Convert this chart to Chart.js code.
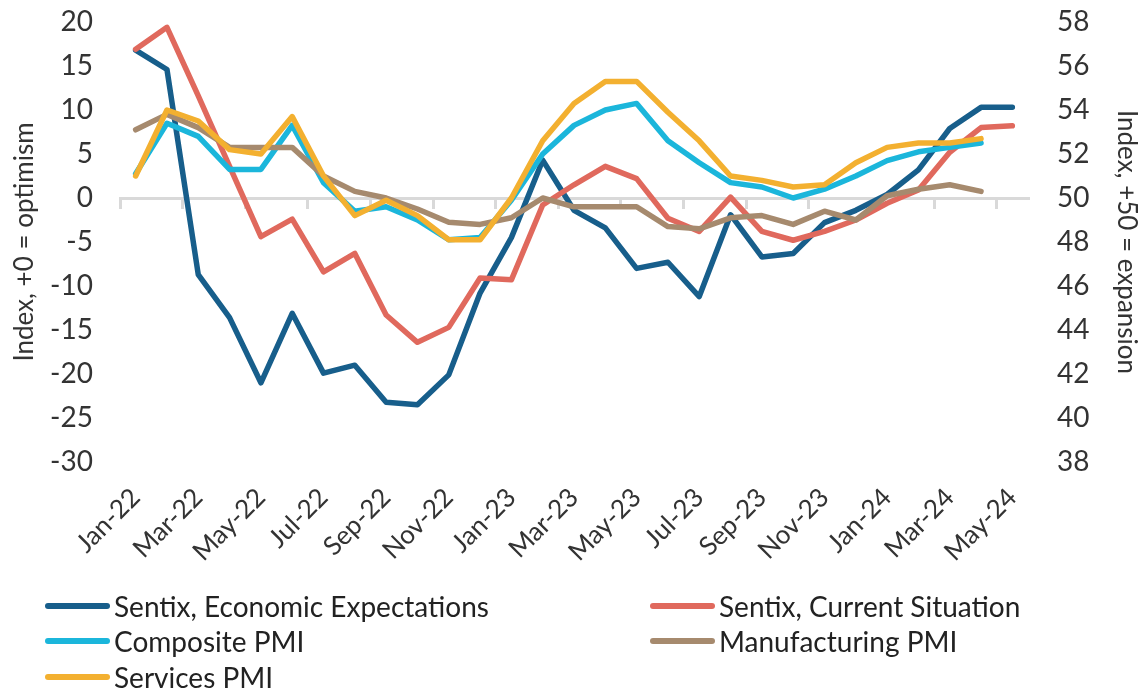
<!DOCTYPE html>
<html>
<head>
<meta charset="utf-8">
<script src="https://cdn.jsdelivr.net/npm/chart.js@4.4.1/dist/chart.umd.min.js"></script>
<style>
    body { margin: 0; background: #fff; font-family: Lato, "Open Sans", sans-serif; }
    #wrap { position: relative; width: 1138px; height: 692px; }
    #legend {
        position: absolute; left: 45px; top: 588px;
        display: grid; grid-template-columns: 605px 440px;
    }
    .item { display: flex; align-items: center; height: 35.5px; font-size: 28px; color: #222; white-space: nowrap; }
    .swatch { width: 65px; height: 6px; border-radius: 3px; margin-right: 4px; }
</style>
</head>
<body>
<div id="wrap">
    <canvas id="sentixChart" width="1138" height="692"></canvas>
    <div id="legend"></div>
</div>
<script>
// months on the x axis
const months = ['Jan-22', 'Feb-22', 'Mar-22', 'Apr-22', 'May-22', 'Jun-22', 'Jul-22', 'Aug-22', 'Sep-22', 'Oct-22', 'Nov-22', 'Dec-22',
    'Jan-23', 'Feb-23', 'Mar-23', 'Apr-23', 'May-23', 'Jun-23', 'Jul-23', 'Aug-23', 'Sep-23', 'Oct-23', 'Nov-23', 'Dec-23',
    'Jan-24', 'Feb-24', 'Mar-24', 'Apr-24', 'May-24'];

// left axis (index, 0 = neutral)
const sentixExpectations = [16.8, 14.6, -8.7, -13.6, -21.0, -13.1, -19.9, -19.0, -23.2, -23.5, -20.1, -10.8,
    -4.5, 4.3, -1.4, -3.4, -8.0, -7.3, -11.2, -1.9, -6.7, -6.3, -2.8, -1.4, 0.4, 3.2, 7.9, 10.3, 10.3];
const sentixCurrent = [16.9, 19.4, 11.6, 3.6, -4.4, -2.4, -8.4, -6.3, -13.3, -16.4, -14.7, -9.1,
    -9.3, -0.8, 1.5, 3.6, 2.2, -2.3, -3.8, 0.1, -3.8, -4.8, -3.8, -2.5, -0.6, 0.9, 5.2, 8.0, 8.2];

// right axis (PMI, 50 = neutral)
const compositePmi = [51.1, 53.4, 52.8, 51.3, 51.3, 53.3, 50.7, 49.4, 49.6, 49.0, 48.1, 48.2,
    49.9, 52.0, 53.3, 54.0, 54.3, 52.6, 51.6, 50.7, 50.5, 50.0, 50.4, 51.0, 51.7, 52.1, 52.3, 52.5, null];
const manufacturingPmi = [53.1, 53.8, 53.2, 52.3, 52.3, 52.3, 51.0, 50.3, 50.0, 49.5, 48.9, 48.8,
    49.1, 50.0, 49.6, 49.6, 49.6, 48.7, 48.6, 49.1, 49.2, 48.8, 49.4, 49.0, 50.1, 50.4, 50.6, 50.3, null];
const servicesPmi = [51.0, 54.0, 53.5, 52.2, 52.0, 53.7, 51.0, 49.2, 49.9, 49.2, 48.1, 48.1,
    50.0, 52.6, 54.3, 55.3, 55.3, 53.9, 52.6, 51.0, 50.8, 50.5, 50.6, 51.6, 52.3, 52.5, 52.5, 52.7, null];

const COLORS = {
    blue: '#175e8b',
    red: '#e0695d',
    cyan: '#1bb6db',
    brown: '#a68a6e',
    yellow: '#f3b030'
};

const textColor = '#333';
const tickFont = { family: 'Lato', size: 28 };
const labelFont = { family: 'Lato', size: 26 };

const datasets = [
    { label: 'Sentix, Economic Expectations', data: sentixExpectations, borderColor: COLORS.blue, yAxisID: 'y', order: 5 },
    { label: 'Sentix, Current Situation', data: sentixCurrent, borderColor: COLORS.red, yAxisID: 'y', order: 4 },
    { label: 'Composite PMI', data: compositePmi, borderColor: COLORS.cyan, yAxisID: 'y1', order: 3 },
    { label: 'Manufacturing PMI', data: manufacturingPmi, borderColor: COLORS.brown, yAxisID: 'y1', order: 2 },
    { label: 'Services PMI', data: servicesPmi, borderColor: COLORS.yellow, yAxisID: 'y1', order: 1 }
];

// invisible tick marks: they only push the y labels away from the plot
const hiddenTicks = len => ({ drawOnChartArea: false, drawTicks: true, tickLength: len, color: 'rgba(0,0,0,0)' });

const ctx = document.getElementById('sentixChart').getContext('2d');

new Chart(ctx, {
    type: 'line',
    data: { labels: months, datasets: datasets },
    options: {
        responsive: false,
        animation: false,
        layout: { padding: { top: 22, left: 0, right: 0, bottom: 0 } },
        elements: {
            point: { radius: 0 },
            line: { borderWidth: 5.5, tension: 0, borderCapStyle: 'round', borderJoinStyle: 'round' }
        },
        plugins: {
            legend: { display: false },
            tooltip: { enabled: false }
        },
        scales: {
            x: {
                offset: true,
                grid: { display: false, drawTicks: false },
                border: { display: false },
                ticks: {
                    autoSkip: false,
                    minRotation: 45,
                    maxRotation: 45,
                    padding: 20,
                    font: labelFont,
                    color: textColor,
                    callback: (value, index) => index % 2 === 0 ? months[index] : ''
                },
                afterFit: scale => { scale.height = 230; }
            },
            // the zero line with its tick marks
            xZero: {
                type: 'category',
                axis: 'x',
                position: { y: 0 },
                offset: true,
                ticks: { display: false },
                grid: {
                    offset: true,
                    drawOnChartArea: false,
                    drawTicks: true,
                    tickLength: 9,
                    lineWidth: 3,
                    color: c => c.index % 2 === 0 ? '#d9d9d9' : 'rgba(0,0,0,0)'
                },
                border: { display: true, color: '#d9d9d9', width: 3 }
            },
            y: {
                position: 'left',
                min: -30,
                max: 20,
                grid: hiddenTicks(24),
                border: { display: false },
                ticks: { stepSize: 5, padding: 3, font: tickFont, color: textColor },
                title: { display: true, text: 'Index, +0 = optimism', font: labelFont, color: textColor, padding: { top: 9, bottom: 0 } },
                afterFit: scale => { scale.width = 120; }
            },
            y1: {
                position: 'right',
                min: 38,
                max: 58,
                grid: hiddenTicks(26),
                border: { display: false },
                ticks: { stepSize: 2, padding: 3, font: tickFont, color: textColor },
                title: { display: true, text: 'Index, +50 = expansion', font: labelFont, color: textColor, padding: { top: -4, bottom: 0 } },
                afterFit: scale => { scale.width = 110; }
            }
        }
    }
});

/*== Legend in two columns ==*/
const legend = document.getElementById('legend');
datasets.forEach(ds => {
    const item = document.createElement('div');
    item.className = 'item';
    item.innerHTML = '<span class="swatch" style="background:' + ds.borderColor + '"></span>' + ds.label;
    legend.appendChild(item);
});
</script>
</body>
</html>
